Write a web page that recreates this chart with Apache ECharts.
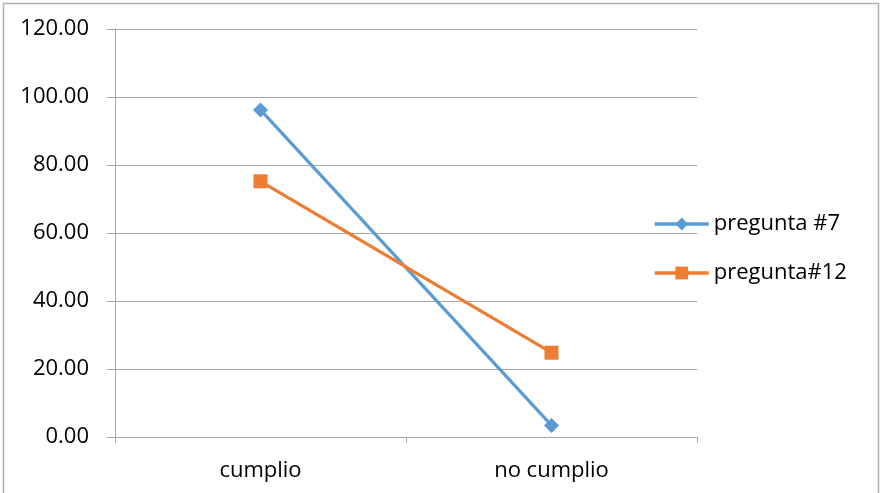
<!DOCTYPE html>
<html>
<head>
<meta charset="utf-8">
<script src="https://cdn.jsdelivr.net/npm/echarts@6/dist/echarts.min.js"></script>
<style>
html,body{margin:0;padding:0;background:#fff;}
#chart{width:881px;height:493px;}
</style>
</head>
<body>
<div id="chart"></div>
<script>
var categories = ['cumplio', 'no cumplio'];
var pregunta7 = [96.2, 3.4];
var pregunta12 = [75.2, 24.8];
var seriesNames = ['pregunta #7', 'pregunta#12'];
var yTicks = [0, 20, 40, 60, 80, 100, 120];

var chart = echarts.init(document.getElementById('chart'), null, {renderer: 'canvas'});
var FONT = 'Open Sans';
var GRID = '#A6A6A6';
chart.setOption({
  animation: false,
  backgroundColor: '#ffffff',
  graphic: [{
    type: 'rect',
    shape: {x: 3.5, y: 3.5, width: 875, height: 500},
    style: {fill: 'none', stroke: '#B0B0B0', lineWidth: 1.5},
    silent: true
  }],
  grid: {left: 115, right: 184, top: 29, bottom: 56},
  legend: {
    orient: 'vertical',
    left: 653,
    top: 213,
    padding: 0,
    itemWidth: 54,
    itemHeight: 16,
    itemGap: 27,
    lineStyle: {width: 3.5},
    textStyle: {fontFamily: FONT, fontSize: 22, color: '#000'},
    data: seriesNames
  },
  xAxis: {
    type: 'category',
    data: categories,
    boundaryGap: true,
    axisLine: {show: true, lineStyle: {color: GRID, width: 1}},
    axisTick: {show: true, length: 6, lineStyle: {color: GRID}},
    axisLabel: {fontFamily: FONT, fontSize: 22, color: '#000', margin: 23}
  },
  yAxis: {
    type: 'value',
    min: yTicks[0],
    max: yTicks[yTicks.length - 1],
    interval: 20,
    axisLine: {show: true, lineStyle: {color: GRID, width: 1}},
    axisTick: {show: true, length: 8, inside: false, lineStyle: {color: GRID}},
    splitLine: {show: true, lineStyle: {color: GRID, width: 1}},
    axisLabel: {
      fontFamily: FONT, fontSize: 22, color: '#000', margin: 26,
      formatter: function (v) { return v.toFixed(2); }
    }
  },
  series: [
    {
      name: seriesNames[0],
      type: 'line',
      data: pregunta7,
      symbol: 'diamond',
      symbolSize: 15,
      itemStyle: {color: '#5B9BD5'},
      lineStyle: {color: '#5B9BD5', width: 3.2}
    },
    {
      name: seriesNames[1],
      type: 'line',
      data: pregunta12,
      symbol: 'rect',
      symbolSize: 14,
      itemStyle: {color: '#ED7D31'},
      lineStyle: {color: '#ED7D31', width: 3.2}
    }
  ]
});
</script>
</body>
</html>
